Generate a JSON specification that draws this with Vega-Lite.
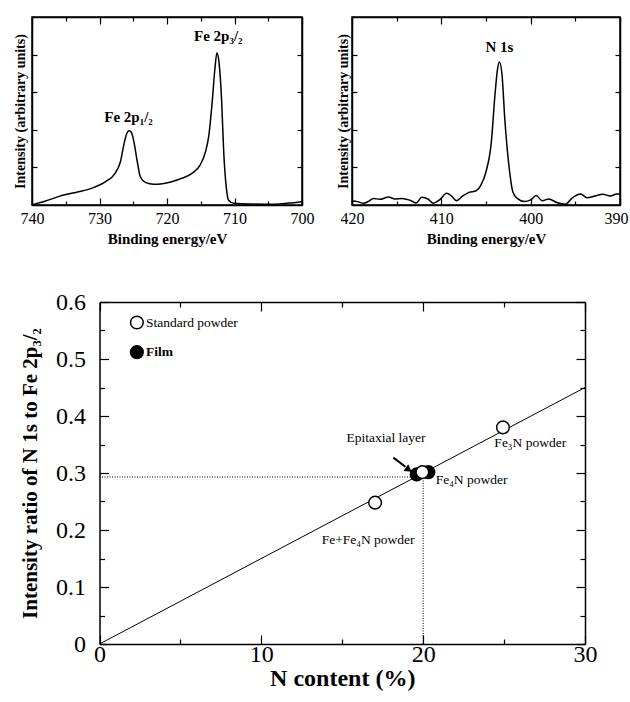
{
  "$schema": "https://vega.github.io/schema/vega-lite/v6.json",
  "padding": {"left": 12, "top": 15, "right": 0, "bottom": 3},
  "background": "white",
  "config": {
    "view": {"stroke": "black", "strokeWidth": 1.5},
    "font": "Liberation Serif",
    "axis": {"domainColor": "black", "tickColor": "black", "labelColor": "black", "titleColor": "black", "grid": false, "labelFont": "Liberation Serif", "titleFont": "Liberation Serif", "domainWidth": 1.5, "tickWidth": 1.2, "labelFlush": false, "labelOverlap": false}
  },
  "datasets": {
    "fe": [
      {"be": 740, "i": 0}, {"be": 738.1, "i": 2}, {"be": 735.3, "i": 5.3}, {"be": 733.1, "i": 7}, {"be": 731.1, "i": 9},
      {"be": 729.1, "i": 12.4}, {"be": 727.7, "i": 16.8}, {"be": 726.9, "i": 23}, {"be": 726.3, "i": 33.6}, {"be": 725.9, "i": 38.5},
      {"be": 725.6, "i": 39.5}, {"be": 725.3, "i": 38.8}, {"be": 724.9, "i": 33.6}, {"be": 724.4, "i": 23}, {"be": 723.95, "i": 15},
      {"be": 723.2, "i": 12}, {"be": 722.0, "i": 11}, {"be": 720.7, "i": 11.3}, {"be": 719.3, "i": 12.4}, {"be": 717.8, "i": 14.2},
      {"be": 716.3, "i": 16.8}, {"be": 715.1, "i": 21.2}, {"be": 714.3, "i": 28.3}, {"be": 713.8, "i": 37}, {"be": 713.3, "i": 55},
      {"be": 712.9, "i": 72.6}, {"be": 712.6, "i": 81}, {"be": 712.3, "i": 76}, {"be": 711.9, "i": 55}, {"be": 711.6, "i": 28.3},
      {"be": 711.2, "i": 8.8}, {"be": 710.9, "i": 2.7}, {"be": 710.1, "i": 0.9}, {"be": 707.4, "i": 0.5}, {"be": 703.95, "i": 0.35},
      {"be": 701.97, "i": 1}, {"be": 700, "i": 1.8}
    ],
    "felab": [
      {"be": 725.7, "i": 47, "t": "Fe 2p₁/₂"},
      {"be": 712.4, "i": 90, "t": "Fe 2p₃/₂"}
    ],
    "n1s": [
      {"be": 419.9, "i": 2.1}, {"be": 419.4, "i": 1.8}, {"be": 418.7, "i": 0.9}, {"be": 418.1, "i": 2.1}, {"be": 417.6, "i": 3.5},
      {"be": 416.9, "i": 3}, {"be": 415.9, "i": 4.2}, {"be": 415.2, "i": 3.2}, {"be": 414.4, "i": 3.5}, {"be": 413.5, "i": 2.5},
      {"be": 412.8, "i": 1.1}, {"be": 412.2, "i": 4.1}, {"be": 411.5, "i": 3.2}, {"be": 410.9, "i": 0.9}, {"be": 410.2, "i": 2.7},
      {"be": 409.4, "i": 6.2}, {"be": 408.9, "i": 5}, {"be": 408.3, "i": 2.3}, {"be": 407.6, "i": 4.8}, {"be": 406.9, "i": 6.7},
      {"be": 406.1, "i": 7.6}, {"be": 405.6, "i": 10.3}, {"be": 405.0, "i": 17.7}, {"be": 404.4, "i": 33.6}, {"be": 404.0, "i": 58.4},
      {"be": 403.7, "i": 72.6}, {"be": 403.5, "i": 76.1}, {"be": 403.2, "i": 69}, {"be": 402.9, "i": 46}, {"be": 402.4, "i": 19.5},
      {"be": 402.0, "i": 7.1}, {"be": 401.5, "i": 3.5}, {"be": 400.7, "i": 1.8}, {"be": 400.0, "i": 2.7}, {"be": 399.4, "i": 5},
      {"be": 398.7, "i": 2.3}, {"be": 398.0, "i": 3.2}, {"be": 397.0, "i": 1.2}, {"be": 396.1, "i": 0.4}, {"be": 395.4, "i": 3.5},
      {"be": 394.4, "i": 5.8}, {"be": 393.7, "i": 3.9}, {"be": 392.8, "i": 4.8}, {"be": 391.9, "i": 5.7}, {"be": 391.1, "i": 4.8},
      {"be": 390.4, "i": 5.8}, {"be": 390, "i": 6}
    ],
    "nlab": [
      {"be": 403.5, "i": 84, "t": "N 1s"}
    ],
    "fit": [
      {"n": 0, "r": 0}, {"n": 30, "r": 0.45}
    ],
    "guides": [
      {"n": 0, "n2": 19.4, "r": 0.293, "r2": 0.293},
      {"n": 20.0, "n2": 20.0, "r": 0, "r2": 0.293}
    ],
    "arrow": [
      {"n": 18.16, "n2": 18.9, "r": 0.327, "r2": 0.311}
    ],
    "arrowhead": [
      {"n": 19.05, "r": 0.307}
    ],
    "pts": [
      {"n": 19.6, "r": 0.2975, "kind": "Film"},
      {"n": 20.32, "r": 0.3015, "kind": "Film"},
      {"n": 2.31, "r": 0.512, "kind": "Film"},
      {"n": 17.03, "r": 0.248, "kind": "Standard powder"},
      {"n": 19.95, "r": 0.3015, "kind": "Standard powder"},
      {"n": 24.93, "r": 0.380, "kind": "Standard powder"},
      {"n": 2.31, "r": 0.564, "kind": "Standard powder"}
    ],
    "labs": [
      {"n": 2.87, "r": 0.564, "t": "Standard powder", "al": "left", "w": "normal"},
      {"n": 2.87, "r": 0.512, "t": "Film", "al": "left", "w": "bold"},
      {"n": 17.7, "r": 0.362, "t": "Epitaxial layer", "al": "center", "w": "normal"},
      {"n": 20.77, "r": 0.287, "t": "Fe₄N powder", "al": "left", "w": "normal"},
      {"n": 24.4, "r": 0.352, "t": "Fe₃N powder", "al": "left", "w": "normal"},
      {"n": 16.6, "r": 0.182, "t": "Fe+Fe₄N powder", "al": "center", "w": "normal"}
    ]
  },
  "spacing": 43,
  "vconcat": [
    {
      "spacing": 20,
      "hconcat": [
        {
          "width": 270, "height": 188,
          "layer": [
            {
              "data": {"name": "fe"},
              "mark": {"type": "line", "color": "black", "strokeWidth": 1.5, "interpolate": "monotone"},
              "encoding": {
                "x": {"field": "be", "type": "quantitative", "scale": {"domain": [700, 740], "reverse": true, "nice": false},
                  "axis": {"orient": "bottom", "values": [700, 705, 710, 715, 720, 725, 730, 735, 740],
                    "labelExpr": "datum.value % 10 === 0 ? datum.label : ''",
                    "tickSize": {"condition": {"test": "datum.value % 10 !== 0", "value": -4}, "value": -7},
                    "title": "Binding energy/eV", "titleFontSize": 15, "titleFontWeight": "bold", "labelFont": "Liberation Serif", "labelFontSize": 16, "labelPadding": 12, "titlePadding": 2}},
                "y": {"field": "i", "type": "quantitative", "scale": {"domain": [0, 100], "nice": false},
                  "axis": {"orient": "left", "values": [20, 40, 60, 80], "labels": false, "tickSize": -5,
                    "title": "Intensity (arbitrary units)", "titleFontSize": 14, "titleFontWeight": "bold", "titlePadding": 4}}
              }
            },
            {
              "data": {"name": "felab"},
              "mark": {"type": "text", "fontWeight": "bold", "fontSize": 15, "font": "Liberation Serif", "color": "black"},
              "encoding": {
                "x": {"field": "be", "type": "quantitative",
                  "axis": {"orient": "top", "values": [700, 705, 710, 715, 720, 725, 730, 735, 740], "labels": false, "title": null,
                    "tickSize": {"condition": {"test": "datum.value % 10 !== 0", "value": -4}, "value": -7}}},
                "y": {"field": "i", "type": "quantitative",
                  "axis": {"orient": "right", "values": [20, 40, 60, 80], "labels": false, "title": null, "tickSize": -5}},
                "text": {"field": "t"}
              }
            }
          ]
        },
        {
          "width": 268, "height": 188,
          "layer": [
            {
              "data": {"name": "n1s"},
              "mark": {"type": "line", "color": "black", "strokeWidth": 1.5, "interpolate": "monotone"},
              "encoding": {
                "x": {"field": "be", "type": "quantitative", "scale": {"domain": [390, 420], "reverse": true, "nice": false},
                  "axis": {"orient": "bottom", "values": [390, 395, 400, 405, 410, 415, 420],
                    "labelExpr": "datum.value % 10 === 0 ? datum.label : ''",
                    "labelOffset": {"condition": {"test": "datum.value === 390", "value": -4}, "value": 0},
                    "tickSize": {"condition": {"test": "datum.value % 10 !== 0", "value": -4}, "value": -7},
                    "title": "Binding energy/eV", "titleFontSize": 15, "titleFontWeight": "bold", "labelFont": "Liberation Serif", "labelFontSize": 16, "labelPadding": 12, "titlePadding": 2}},
                "y": {"field": "i", "type": "quantitative", "scale": {"domain": [0, 100], "nice": false},
                  "axis": {"orient": "left", "values": [20, 40, 60, 80], "labels": false, "tickSize": -5,
                    "title": "Intensity (arbitrary units)", "titleFontSize": 14, "titleFontWeight": "bold", "titlePadding": 1}}
              }
            },
            {
              "data": {"name": "nlab"},
              "mark": {"type": "text", "fontWeight": "bold", "fontSize": 15, "font": "Liberation Serif", "color": "black"},
              "encoding": {
                "x": {"field": "be", "type": "quantitative",
                  "axis": {"orient": "top", "values": [390, 395, 400, 405, 410, 415, 420], "labels": false, "title": null,
                    "tickSize": {"condition": {"test": "datum.value % 10 !== 0", "value": -4}, "value": -7}}},
                "y": {"field": "i", "type": "quantitative",
                  "axis": {"orient": "right", "values": [20, 40, 60, 80], "labels": false, "title": null, "tickSize": -5}},
                "text": {"field": "t"}
              }
            }
          ]
        }
      ]
    },
    {
      "width": 553, "height": 342,
      "view": {"stroke": null},
      "layer": [
        {
          "data": {"name": "fit"},
          "mark": {"type": "line", "color": "black", "strokeWidth": 1},
          "encoding": {
            "x": {"field": "n", "type": "quantitative", "scale": {"domain": [0, 30], "nice": false, "range": [67.5, 553]},
              "axis": {"orient": "bottom", "values": [0, 5, 10, 15, 20, 25, 30],
                "labelExpr": "datum.value % 10 === 0 ? datum.label : ''",
                "tickSize": {"condition": {"test": "datum.value % 10 !== 0", "value": -5}, "value": -9},
                "title": "N content (%)", "titleFontSize": 24, "titleFontWeight": "bold", "labelFont": "Liberation Serif", "labelFontSize": 24, "labelPadding": 7, "titlePadding": -4}},
            "y": {"field": "r", "type": "quantitative", "scale": {"domain": [0, 0.6], "nice": false},
              "axis": {"orient": "left", "offset": -67.5, "values": [0, 0.05, 0.1, 0.15, 0.2, 0.25, 0.3, 0.35, 0.4, 0.45, 0.5, 0.55, 0.6],
                "labelExpr": "round(datum.value*100) % 10 !== 0 ? '' : (datum.value === 0 ? '0' : format(datum.value, '.1f'))",
                "tickSize": {"condition": {"test": "round(datum.value*100) % 10 !== 0", "value": -5}, "value": -9},
                "title": "Intensity ratio of N 1s to Fe 2p₃/₂", "titleFontSize": 21, "titleFontWeight": "bold", "labelFont": "Liberation Serif", "labelFontSize": 24, "labelPadding": 23, "titlePadding": 15}}
          }
        },
        {
          "data": {"name": "guides"},
          "mark": {"type": "rule", "color": "black", "strokeWidth": 1, "strokeDash": [1, 1.5]},
          "encoding": {
            "x": {"field": "n", "type": "quantitative", "axis": null},
            "x2": {"field": "n2"},
            "y": {"field": "r", "type": "quantitative", "axis": null},
            "y2": {"field": "r2"}
          }
        },
        {
          "data": {"name": "arrow"},
          "mark": {"type": "rule", "color": "black", "strokeWidth": 2},
          "encoding": {
            "x": {"field": "n", "type": "quantitative", "axis": null},
            "x2": {"field": "n2"},
            "y": {"field": "r", "type": "quantitative", "axis": null},
            "y2": {"field": "r2"}
          }
        },
        {
          "data": {"name": "arrowhead"},
          "mark": {"type": "point", "shape": "triangle", "filled": true, "color": "black", "size": 70, "angle": 125, "opacity": 1},
          "encoding": {
            "x": {"field": "n", "type": "quantitative", "axis": null},
            "y": {"field": "r", "type": "quantitative", "axis": null}
          }
        },
        {
          "data": {"name": "pts"},
          "mark": {"type": "point", "shape": "circle", "filled": false, "size": 160, "strokeWidth": 1.5, "stroke": "black", "opacity": 1},
          "encoding": {
            "x": {"field": "n", "type": "quantitative",
              "axis": {"orient": "top", "values": [0, 5, 10, 15, 20, 25, 30], "labels": false, "title": null,
                "tickSize": {"condition": {"test": "datum.value % 10 !== 0", "value": -5}, "value": -9}}},
            "y": {"field": "r", "type": "quantitative",
              "axis": {"orient": "right", "values": [0, 0.05, 0.1, 0.15, 0.2, 0.25, 0.3, 0.35, 0.4, 0.45, 0.5, 0.55, 0.6], "labels": false, "title": null,
                "tickSize": {"condition": {"test": "round(datum.value*100) % 10 !== 0", "value": -5}, "value": -9}}},
            "fill": {"field": "kind", "type": "nominal", "scale": {"domain": ["Standard powder", "Film"], "range": ["white", "black"]}, "legend": null}
          }
        },
        {
          "data": {"name": "labs"},
          "transform": [{"filter": "datum.al === 'left' && datum.w === 'normal'"}],
          "mark": {"type": "text", "align": "left", "fontSize": 13.5, "font": "Liberation Serif", "color": "black"},
          "encoding": {
            "x": {"field": "n", "type": "quantitative", "axis": null},
            "y": {"field": "r", "type": "quantitative", "axis": null},
            "text": {"field": "t"}
          }
        },
        {
          "data": {"name": "labs"},
          "transform": [{"filter": "datum.al === 'left' && datum.w === 'bold'"}],
          "mark": {"type": "text", "align": "left", "fontSize": 13.5, "fontWeight": "bold", "font": "Liberation Serif", "color": "black"},
          "encoding": {
            "x": {"field": "n", "type": "quantitative", "axis": null},
            "y": {"field": "r", "type": "quantitative", "axis": null},
            "text": {"field": "t"}
          }
        },
        {
          "data": {"name": "labs"},
          "transform": [{"filter": "datum.al === 'center'"}],
          "mark": {"type": "text", "align": "center", "fontSize": 13.5, "font": "Liberation Serif", "color": "black"},
          "encoding": {
            "x": {"field": "n", "type": "quantitative", "axis": null},
            "y": {"field": "r", "type": "quantitative", "axis": null},
            "text": {"field": "t"}
          }
        }
      ]
    }
  ]
}
